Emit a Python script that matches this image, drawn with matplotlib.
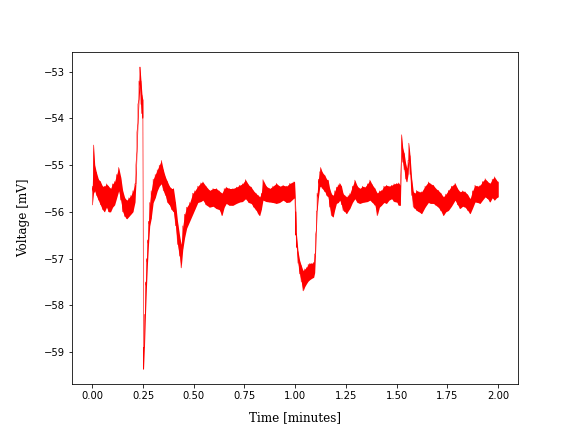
import numpy as np
import matplotlib.pyplot as plt

t = [0.000, 0.006, 0.012, 0.020, 0.030, 0.040, 0.050, 0.060, 0.070, 0.080,
     0.090, 0.100, 0.110, 0.120, 0.130, 0.140, 0.150, 0.160, 0.170, 0.180,
     0.190, 0.200, 0.210, 0.215, 0.220, 0.225, 0.230, 0.235, 0.240, 0.245,
     0.249, 0.253, 0.257, 0.262, 0.267, 0.272, 0.277, 0.283, 0.290, 0.300,
     0.310, 0.320, 0.330, 0.340, 0.350, 0.360, 0.370, 0.380, 0.390, 0.400,
     0.410, 0.420, 0.430, 0.438, 0.446, 0.455, 0.465, 0.480, 0.495, 0.505,
     0.520, 0.535, 0.545, 0.560, 0.578, 0.595, 0.611, 0.625, 0.639, 0.650,
     0.660, 0.675, 0.693, 0.710, 0.726, 0.740, 0.755, 0.770, 0.783, 0.795,
     0.808, 0.818, 0.825, 0.833, 0.841, 0.857, 0.874, 0.890, 0.907, 0.923,
     0.940, 0.957, 0.973, 0.990, 0.997, 1.003, 1.006, 1.014, 1.022, 1.030,
     1.039, 1.047, 1.055, 1.064, 1.072, 1.082, 1.091, 1.096, 1.100, 1.104,
     1.108, 1.114, 1.121, 1.125, 1.133, 1.146, 1.155, 1.162, 1.170, 1.178,
     1.187, 1.195, 1.203, 1.212, 1.220, 1.228, 1.236, 1.245, 1.253, 1.261,
     1.269, 1.282, 1.294, 1.306, 1.319, 1.331, 1.343, 1.356, 1.368, 1.380,
     1.393, 1.404, 1.415, 1.425, 1.437, 1.450, 1.462, 1.475, 1.487, 1.500,
     1.510, 1.518, 1.524, 1.530, 1.537, 1.544, 1.550, 1.556, 1.560, 1.566,
     1.574, 1.582, 1.590, 1.598, 1.610, 1.623, 1.640, 1.656, 1.668, 1.681,
     1.693, 1.705, 1.718, 1.730, 1.742, 1.755, 1.770, 1.788, 1.800, 1.812,
     1.825, 1.837, 1.850, 1.862, 1.874, 1.886, 1.899, 1.911, 1.923, 1.936,
     1.948, 1.960, 1.971, 1.982, 1.992, 2.000]

v_high = [-55.45, -54.57, -55.00, -55.15, -55.30, -55.35, -55.45, -55.45, -55.40, -55.45,
          -55.50, -55.40, -55.35, -55.20, -55.05, -55.25, -55.55, -55.70, -55.75, -55.70,
          -55.65, -55.55, -55.40, -55.00, -54.30, -53.70, -53.20, -52.90, -53.20, -53.50,
          -53.60, -58.90, -58.20, -57.50, -57.00, -56.60, -56.20, -55.80, -55.55, -55.30,
          -55.20, -55.10, -55.00, -54.90, -55.10, -55.25, -55.35, -55.45, -55.50, -55.50,
          -55.80, -56.20, -56.50, -56.70, -56.30, -56.05, -55.90, -55.80, -55.60, -55.55,
          -55.45, -55.38, -55.36, -55.45, -55.54, -55.50, -55.50, -55.55, -55.60, -55.50,
          -55.47, -55.50, -55.50, -55.47, -55.43, -55.40, -55.31, -55.42, -55.47, -55.55,
          -55.61, -55.65, -55.68, -55.60, -55.31, -55.45, -55.50, -55.45, -55.39, -55.45,
          -55.43, -55.45, -55.39, -55.36, -55.36, -56.00, -56.47, -56.85, -57.04, -57.15,
          -57.26, -57.22, -57.19, -57.12, -57.10, -57.10, -57.08, -56.90, -56.50, -56.00,
          -55.60, -55.30, -55.14, -55.05, -55.15, -55.22, -55.30, -55.32, -55.50, -55.61,
          -55.65, -55.55, -55.47, -55.42, -55.39, -55.45, -55.61, -55.65, -55.68, -55.65,
          -55.61, -55.45, -55.32, -55.45, -55.50, -55.45, -55.47, -55.40, -55.32, -55.42,
          -55.50, -55.60, -55.55, -55.54, -55.45, -55.43, -55.45, -55.43, -55.40, -55.39,
          -55.38, -55.43, -54.35, -54.63, -54.75, -54.95, -55.07, -54.90, -54.53, -54.80,
          -55.29, -55.57, -55.60, -55.54, -55.57, -55.57, -55.45, -55.36, -55.40, -55.43,
          -55.50, -55.54, -55.60, -55.68, -55.62, -55.54, -55.45, -55.39, -55.50, -55.57,
          -55.55, -55.57, -55.63, -55.72, -55.55, -55.43, -55.45, -55.43, -55.35, -55.29,
          -55.35, -55.39, -55.30, -55.25, -55.32, -55.36]

v_low = [-55.85, -55.60, -55.55, -55.65, -55.75, -55.85, -55.95, -56.00, -55.90, -56.00,
         -56.00, -55.90, -55.85, -55.70, -55.55, -55.75, -56.00, -56.10, -56.15, -56.10,
         -56.05, -56.00, -55.80, -55.40, -54.70, -54.10, -53.60, -53.30, -53.70, -53.90,
         -54.00, -59.37, -58.90, -58.20, -57.60, -57.10, -56.70, -56.30, -56.15, -55.80,
         -55.70, -55.55, -55.45, -55.40, -55.55, -55.65, -55.80, -55.85, -55.95, -56.00,
         -56.30, -56.70, -56.95, -57.20, -56.80, -56.55, -56.35, -56.20, -56.05, -55.95,
         -55.80, -55.78, -55.75, -55.85, -55.90, -55.88, -55.93, -55.95, -56.08, -55.90,
         -55.82, -55.86, -55.86, -55.82, -55.79, -55.78, -55.72, -55.80, -55.82, -55.90,
         -55.97, -56.05, -56.08, -55.95, -55.75, -55.78, -55.79, -55.80, -55.82, -55.80,
         -55.75, -55.80, -55.79, -55.72, -55.70, -56.50, -56.76, -57.10, -57.33, -57.50,
         -57.69, -57.60, -57.54, -57.48, -57.45, -57.42, -57.40, -57.30, -56.90, -56.40,
         -55.97, -55.70, -55.47, -55.45, -55.50, -55.57, -55.65, -55.68, -55.90, -56.08,
         -56.11, -55.95, -55.82, -55.80, -55.75, -55.85, -55.97, -56.00, -56.04, -55.98,
         -55.93, -55.80, -55.72, -55.80, -55.82, -55.80, -55.79, -55.78, -55.75, -55.80,
         -55.86, -56.08, -55.90, -55.86, -55.80, -55.82, -55.75, -55.72, -55.78, -55.79,
         -55.86, -55.86, -54.80, -54.94, -55.10, -55.30, -55.36, -55.20, -54.90, -55.20,
         -55.65, -55.90, -55.93, -55.97, -56.00, -56.04, -55.90, -55.80, -55.82, -55.82,
         -55.86, -55.90, -55.98, -56.08, -56.00, -55.97, -55.88, -55.75, -55.85, -55.93,
         -55.88, -55.90, -55.97, -56.04, -55.92, -55.79, -55.80, -55.82, -55.75, -55.68,
         -55.72, -55.79, -55.70, -55.75, -55.70, -55.68]

t = np.array(t)
v_high = np.array(v_high)
v_low = np.array(v_low)

fig, ax = plt.subplots(figsize=(8, 6), dpi=72)

# solid band plus a zig-zag between the envelope values to mimic the noisy trace
ax.fill_between(t, v_low, v_high, color='red', lw=0)
zig_t = np.repeat(t, 2)
zig_v = np.column_stack([v_low, v_high]).ravel()
ax.plot(zig_t, zig_v, color='red', lw=0.6)

ax.set_xlabel('Time [minutes]', family='serif', fontsize=12, labelpad=10)
ax.set_ylabel('Voltage [mV]', family='serif', fontsize=12, labelpad=14)

fig.savefig('out.png')
